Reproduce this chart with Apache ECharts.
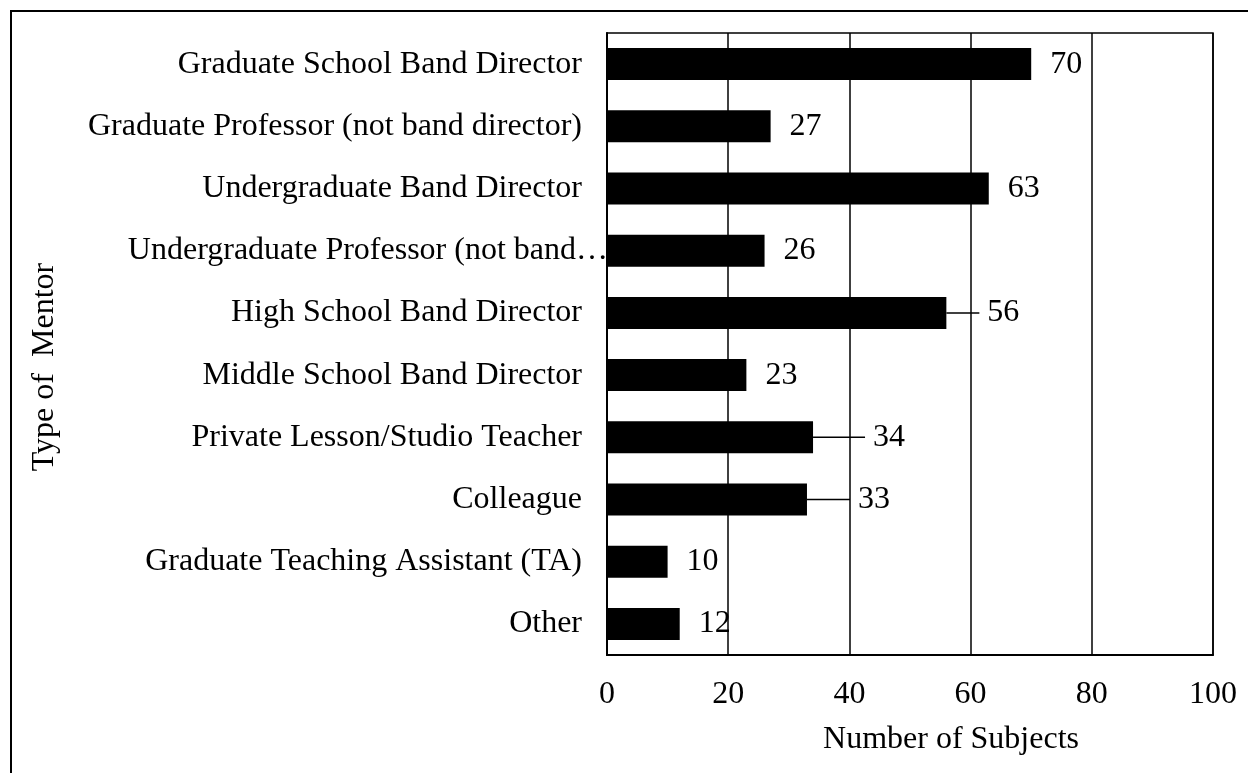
<!DOCTYPE html>
<html>
<head>
<meta charset="utf-8">
<title>Type of Mentor</title>
<script src="https://cdn.jsdelivr.net/npm/echarts@6/dist/echarts.min.js"></script>
<style>
  html, body { margin: 0; padding: 0; background: #fff; }
  #chart { width: 1248px; height: 773px; }
</style>
</head>
<body>
<div id="chart"></div>
<script>
// Mentor types, top to bottom
const categories = [
  'Graduate School Band Director',
  'Graduate Professor (not band director)',
  'Undergraduate Band Director',
  'Undergraduate Professor (not band director)',
  'High School Band Director',
  'Middle School Band Director',
  'Private Lesson/Studio Teacher',
  'Colleague',
  'Graduate Teaching Assistant (TA)',
  'Other'
];
// Number of subjects naming each mentor type
const subjects = [70, 27, 63, 26, 56, 23, 34, 33, 10, 12];
// Value axis tick labels
const xTicks = [0, 20, 40, 60, 80, 100];

// Labels pushed further right and joined to their bar with a leader line (px)
const leaderShift = { 4: 14, 6: 33, 7: 24 };

const FONT = '"Liberation Serif", "Times New Roman", serif';
const FS = 32;
const INK = '#000';

const chart = echarts.init(document.getElementById('chart'), null, { renderer: 'canvas' });

// Long category names are cut with an ellipsis that runs up to the axis
const yData = categories.map(name => {
  const item = { value: name };
  if (name.length > 40) {
    item.textStyle = {
      width: 485, overflow: 'truncate', ellipsis: '\u2026',
      padding: [0, -26, 0, 0]
    };
  }
  return item;
});

// Leader-line labels start with a space so the line stops short of the digits
const barData = subjects.map((v, i) => {
  const item = { value: v };
  if (leaderShift[i] != null) {
    item.labelLine = { show: true };
    item.label = { formatter: ' {c}' };
  }
  return item;
});

chart.setOption({
  animation: false,
  backgroundColor: '#fff',
  textStyle: { fontFamily: FONT, color: INK },
  grid: {
    left: 607, right: 35, top: 33, bottom: 118,
    show: true, borderColor: INK, borderWidth: 1.5,
    containLabel: false
  },
  xAxis: {
    type: 'value',
    min: xTicks[0],
    max: xTicks[xTicks.length - 1],
    interval: xTicks[1] - xTicks[0],
    axisLine: { show: true, lineStyle: { color: INK, width: 2 } },
    axisTick: { show: false },
    splitLine: { show: true, lineStyle: { color: INK, width: 1.5 } },
    axisLabel: {
      color: INK, fontFamily: FONT, fontSize: FS, margin: 24,
      formatter: v => String(v)
    }
  },
  yAxis: {
    type: 'category',
    inverse: true,
    data: yData,
    axisLine: { show: true, lineStyle: { color: INK, width: 2 } },
    axisTick: { show: false },
    splitLine: { show: false },
    axisLabel: { color: INK, fontFamily: FONT, fontSize: FS, margin: 25 }
  },
  series: [{
    type: 'bar',
    data: barData,
    barWidth: 32,
    itemStyle: { color: INK },
    label: {
      show: true,
      position: 'right',
      distance: 19,
      color: INK,
      fontFamily: FONT,
      fontSize: FS
    },
    labelLine: { show: false, lineStyle: { color: INK, width: 1.5 } },
    labelLayout: params => {
      const shift = leaderShift[params.dataIndex];
      return shift != null ? { dx: shift } : {};
    }
  }],
  graphic: [
    {
      type: 'rect',
      shape: { x: 11, y: 11, width: 1400, height: 900 },
      style: { fill: 'none', stroke: INK, lineWidth: 2 },
      silent: true
    },
    {
      type: 'text',
      x: 951, y: 740,
      style: {
        text: 'Number of Subjects',
        font: FS + 'px ' + FONT,
        fill: INK,
        align: 'center',
        verticalAlign: 'middle'
      }
    },
    {
      type: 'text',
      x: 45, y: 367,
      rotation: Math.PI / 2,
      style: {
        text: 'Type of  Mentor',
        font: FS + 'px ' + FONT,
        fill: INK,
        align: 'center',
        verticalAlign: 'middle'
      }
    }
  ]
});
</script>
</body>
</html>
